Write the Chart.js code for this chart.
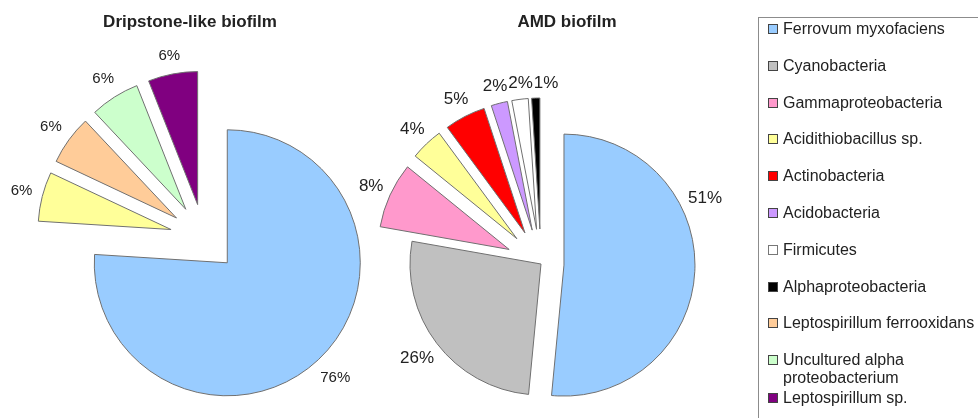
<!DOCTYPE html>
<html>
<head>
<meta charset="utf-8">
<script src="https://cdn.jsdelivr.net/npm/chart.js@4.4.1/dist/chart.umd.min.js"></script>
<style>
  html, body { margin:0; padding:0; background:#fff; }
  body { width:978px; height:418px; overflow:hidden; position:relative; font-family: Arial, "Liberation Sans", sans-serif; color:#222; }
  canvas { position:absolute; top:0; }
  #c1 { left:0; }
  #c2 { left:330px; }
  .title { position:absolute; top:12px; font-size:17px; font-weight:bold; line-height:20px; white-space:nowrap; transform:translateX(-50%); }
  #legend { position:absolute; left:758px; top:17px; width:240px; height:420px; border:1px solid #8c8c8c; box-sizing:border-box; padding-top:2px; }
  .item { position:relative; padding-left:24px; width:200px; font-size:16px; line-height:18px; margin-bottom:18.8px; }
  .item.tight { margin-bottom:2px; }
  .sw { position:absolute; left:9px; top:4px; width:8px; height:8px; border:1px solid #444; }
</style>
</head>
<body>
<canvas id="c1" width="370" height="418"></canvas>
<canvas id="c2" width="428" height="418"></canvas>
<div class="title" id="t1" style="left:190px"></div>
<div class="title" id="t2" style="left:567px"></div>
<div id="legend"></div>
<script>
// ---------- data ----------
const categories = [
  'Ferrovum myxofaciens',
  'Cyanobacteria',
  'Gammaproteobacteria',
  'Acidithiobacillus sp.',
  'Actinobacteria',
  'Acidobacteria',
  'Firmicutes',
  'Alphaproteobacteria',
  'Leptospirillum ferrooxidans',
  'Uncultured alpha proteobacterium',
  'Leptospirillum sp.'
];
const chartTitles = ['Dripstone-like biofilm', 'AMD biofilm'];

const dripstoneCategories = ['Ferrovum myxofaciens', 'Acidithiobacillus sp.', 'Leptospirillum ferrooxidans', 'Uncultured alpha proteobacterium', 'Leptospirillum sp.'];
const dripstoneValues = [76, 6, 6, 6, 6];

const amdCategories = ['Ferrovum myxofaciens', 'Cyanobacteria', 'Gammaproteobacteria', 'Acidithiobacillus sp.', 'Actinobacteria', 'Acidobacteria', 'Firmicutes', 'Alphaproteobacteria'];
const amdValues = [51, 26, 8, 4, 5, 2, 2, 1];

// ---------- styles ----------
const categoryColors = {
  'Ferrovum myxofaciens': '#99ccff',
  'Cyanobacteria': '#c0c0c0',
  'Gammaproteobacteria': '#ff99cc',
  'Acidithiobacillus sp.': '#ffff99',
  'Actinobacteria': '#ff0000',
  'Acidobacteria': '#cc99ff',
  'Firmicutes': '#ffffff',
  'Alphaproteobacteria': '#000000',
  'Leptospirillum ferrooxidans': '#ffcc99',
  'Uncultured alpha proteobacterium': '#ccffcc',
  'Leptospirillum sp.': '#800080'
};
const FONT = 'Arial, "Liberation Sans", sans-serif';

// titles
document.getElementById('t1').textContent = chartTitles[0];
document.getElementById('t2').textContent = chartTitles[1];

// legend
const legend = document.getElementById('legend');
categories.forEach((c, i) => {
  const it = document.createElement('div');
  it.className = 'item' + (i === 9 ? ' tight' : '');
  const sw = document.createElement('span');
  sw.className = 'sw';
  sw.style.background = categoryColors[c];
  if (c === 'Firmicutes') sw.style.borderColor = '#777';
  it.appendChild(sw);
  it.appendChild(document.createTextNode(c));
  legend.appendChild(it);
});

// exploded drawing: each arc drawn by the library, shifted along its mid angle
const explodePlugin = {
  id: 'explode',
  beforeDatasetDraw(chart, args) {
    const ctx = chart.ctx;
    const ds = chart.data.datasets[args.index];
    args.meta.data.forEach((arc, i) => {
      const off = (ds.explode && ds.explode[i]) || 0;
      const mid = (arc.startAngle + arc.endAngle) / 2;
      ctx.save();
      ctx.translate(Math.cos(mid) * off, Math.sin(mid) * off);
      arc.draw(ctx, chart.chartArea);
      ctx.restore();
    });
    return false;
  }
};

// percentage labels outside the slices
const pctLabels = {
  id: 'pctLabels',
  afterDatasetsDraw(chart, args, opts) {
    const ctx = chart.ctx;
    const meta = chart.getDatasetMeta(0);
    const ds = chart.data.datasets[0];
    ctx.save();
    ctx.font = opts.size + 'px ' + FONT;
    ctx.fillStyle = '#222';
    ctx.textAlign = 'center';
    ctx.textBaseline = 'middle';
    const placed = [];
    meta.data.forEach((arc, i) => {
      const off = (ds.explode && ds.explode[i]) || 0;
      const mid = (arc.startAngle + arc.endAngle) / 2;
      const cx = arc.x + Math.cos(mid) * off, cy = arc.y + Math.sin(mid) * off;
      const a = mid + (((opts.angleShift && opts.angleShift[i]) || 0) * Math.PI / 180);
      const txt = ds.data[i] + '%';
      const w = ctx.measureText(txt).width, h = opts.size;
      const ext = Math.abs(Math.cos(a)) * w / 2 + Math.abs(Math.sin(a)) * h / 2;
      const d = arc.outerRadius + opts.gap + ext;
      let x = cx + Math.cos(a) * d, y = cy + Math.sin(a) * d;
      placed.forEach(q => {
        if (Math.abs(x - q.x) < (w + q.w) / 2 && Math.abs(y - q.y) < (h + q.h) / 2) {
          const need = (w + q.w) / 2 + 1;
          x = x >= q.x ? q.x + need : q.x - need;
        }
      });
      placed.push({x, y, w, h});
      ctx.fillText(txt, x, y);
    });
    ctx.restore();
  }
};

function makePie(id, cats, vals, radius, explode, padding, labelOpts) {
  return new Chart(document.getElementById(id), {
    type: 'pie',
    data: {
      labels: cats,
      datasets: [{
        data: vals,
        backgroundColor: cats.map(c => categoryColors[c]),
        borderColor: '#707070',
        borderWidth: 1,
        radius: radius,
        explode: explode
      }]
    },
    options: {
      responsive: false,
      animation: false,
      events: [],
      layout: { padding: padding },
      plugins: {
        legend: { display: false },
        tooltip: { enabled: false },
        title: { display: false },
        pctLabels: labelOpts
      }
    },
    plugins: [explodePlugin, pctLabels]
  });
}

makePie('c1', dripstoneCategories, dripstoneValues, 133,
  [34, 34, 34, 34, 34],
  { left: 38, right: 0, top: 58, bottom: 0 },
  { size: 15, gap: 9 });

makePie('c2', amdCategories, amdValues, 131,
  [23, 0, 35, 35, 35, 35, 35, 35],
  { left: 0, right: 6, top: 110, bottom: 0 },
  { size: 17, gap: 6, angleShift: [-28, 0, 0, 0, 0, 0, 0, 0] });
</script>
</body>
</html>
